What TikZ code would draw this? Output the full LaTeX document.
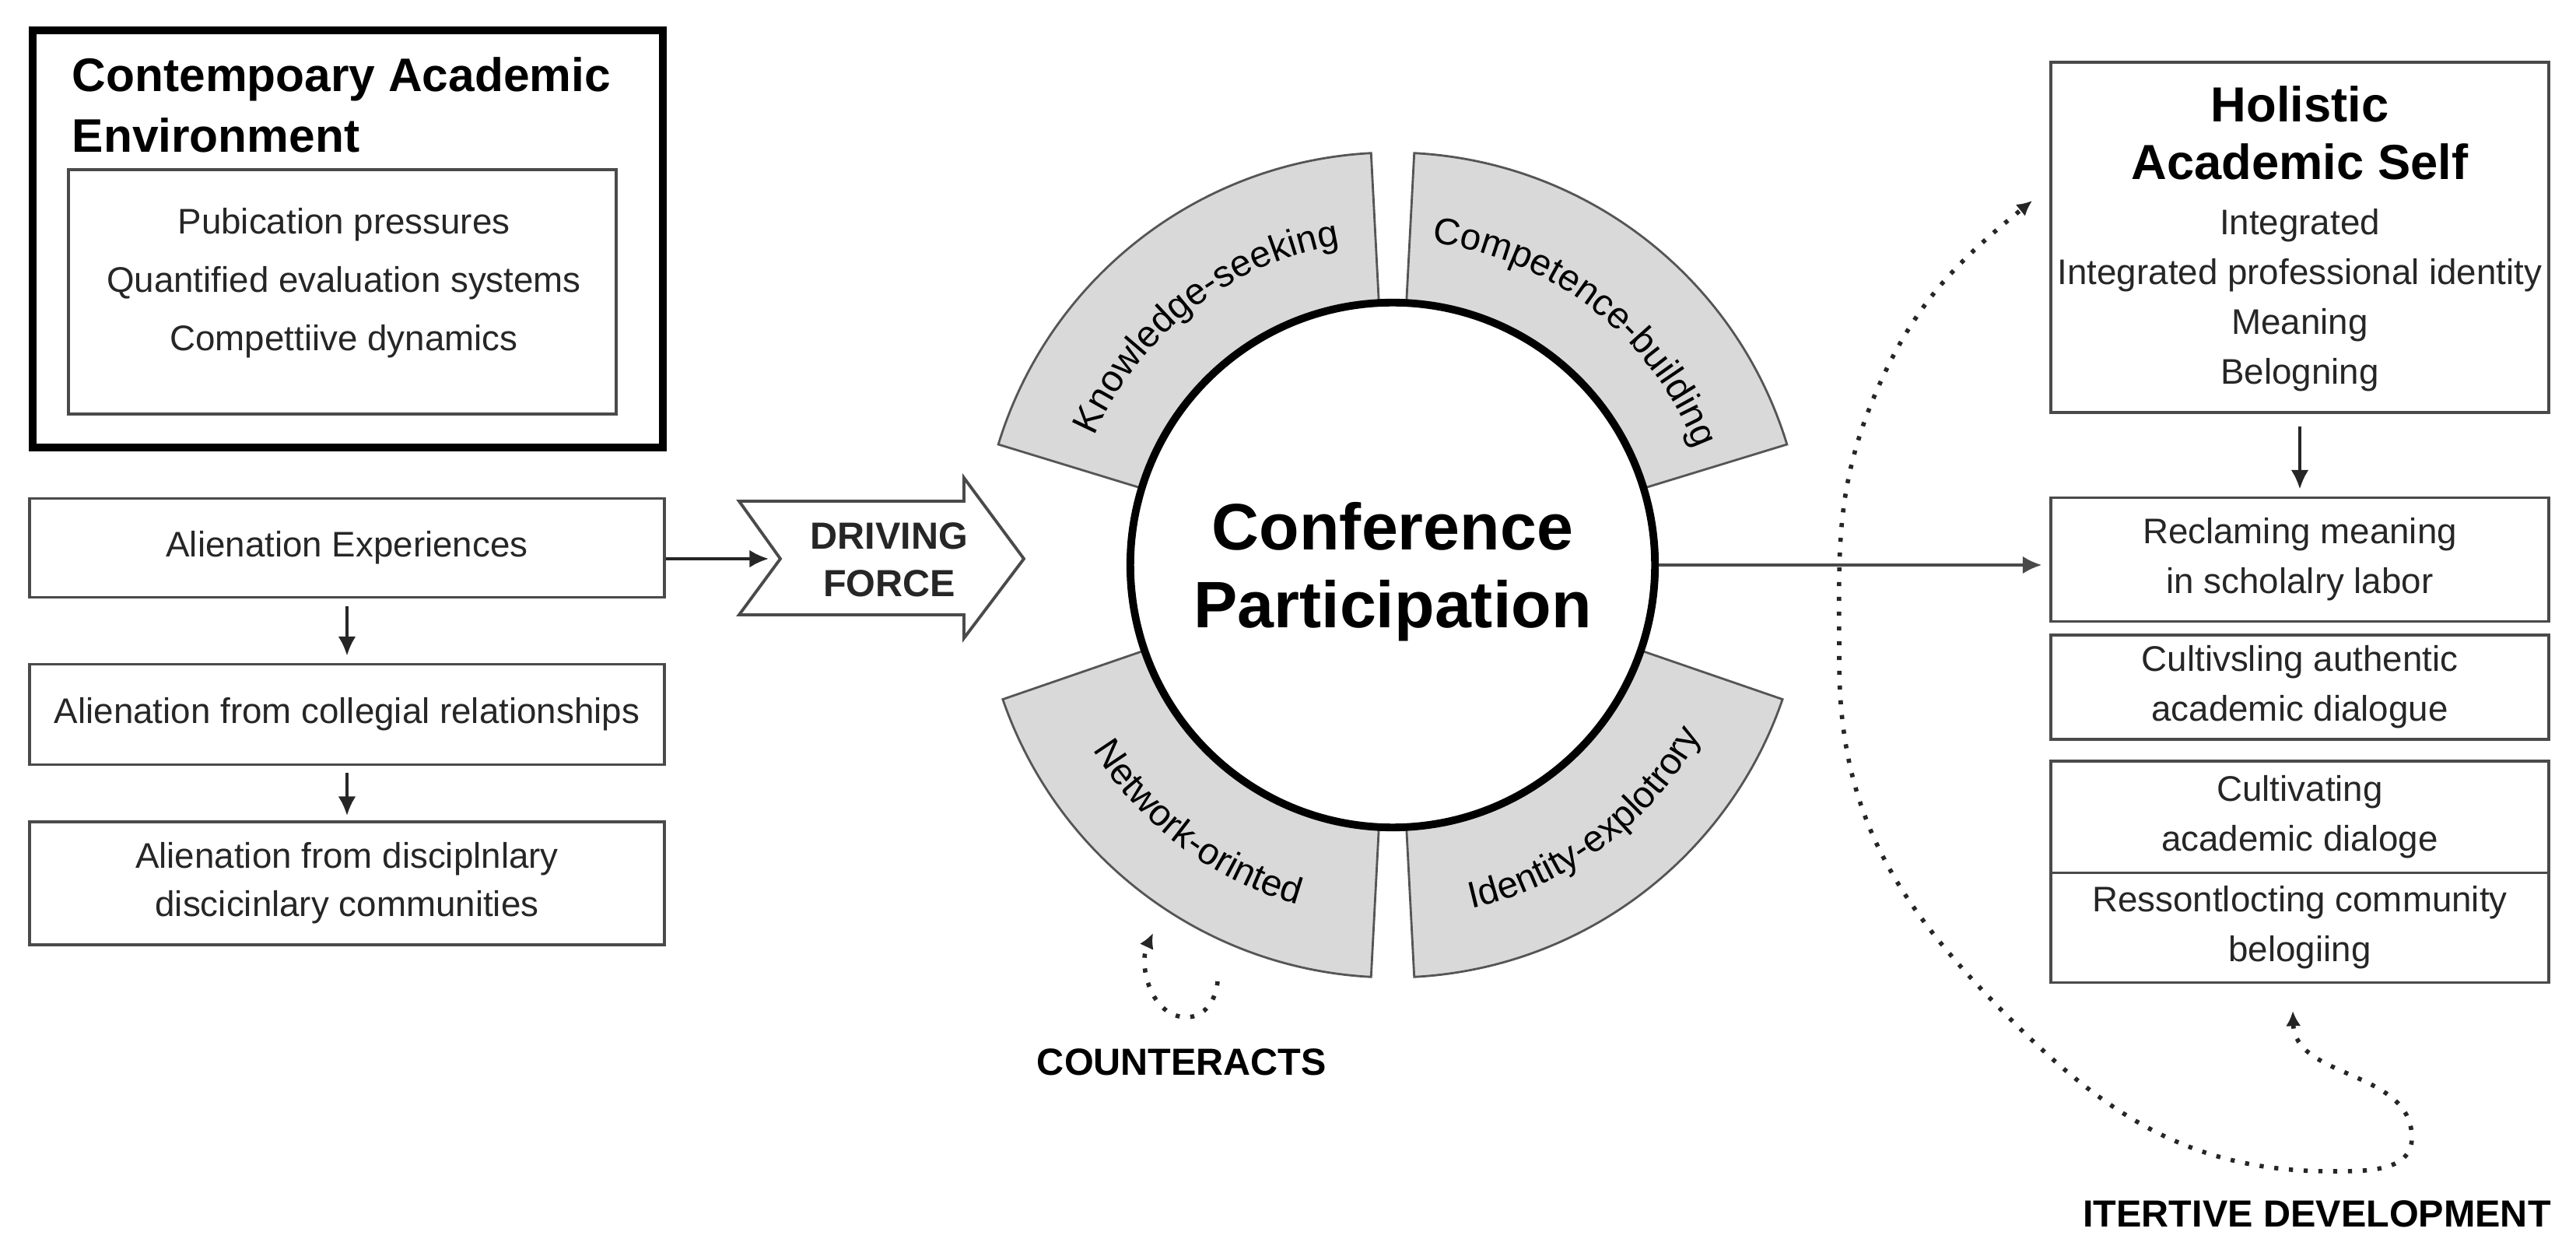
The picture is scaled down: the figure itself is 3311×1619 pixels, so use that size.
\documentclass[tikz,border=0pt]{standalone}
\usepackage{fontspec}
\setmainfont{Liberation Sans}
\usepackage{xcolor}
\usepackage{tikz}
\usetikzlibrary{arrows.meta}
\usetikzlibrary{calc}
\usetikzlibrary{decorations.text}
\definecolor{boxline}{HTML}{4A4A4A}
\definecolor{txtcol}{HTML}{262626}
\definecolor{ringfill}{HTML}{D9D9D9}
\definecolor{ringline}{HTML}{555555}
\newcommand{\bodyfont}{\fontsize{13}{18.2}\selectfont}
\newcommand{\ringfont}{\fontsize{13.6}{15}\selectfont}
\newcommand{\capsfont}{\fontsize{13.8}{17.4}\selectfont\bfseries}

\tikzset{
  box/.style={draw=boxline, line width=1.1pt, fill=white, inner sep=0pt, align=center, font=\bodyfont, text=txtcol},
  lbl/.style={font=\bodyfont, text=txtcol, align=center, inner sep=0pt},
  arr/.style={-{Latex[length=7pt,width=6.5pt]}, line width=1.1pt, draw=txtcol},
  dotline/.style={line width=1.6pt, dash pattern=on 1.5pt off 3.9pt, draw=txtcol},
  dottip/.tip={Latex[length=5.5pt,width=5.5pt]},
  sector/.style={fill=ringfill, draw=ringline, line width=0.8pt},
  ringtext/.style={postaction={decorate, decoration={text along path, text align=center, text color=black, text={|\ringfont|#1}}}}
}

\begin{document}
\begin{tikzpicture}[x=0.01cm,y=0.01cm]
\useasboundingbox (0,0) rectangle (3311,-1619);

% academic environment
\node[draw=black, line width=2.8pt, minimum width=8.1cm, minimum height=5.35cm] (env) at (447,-307) {};
\node[anchor=west, font=\fontsize{17.2}{22}\selectfont\bfseries, align=left, inner sep=0pt] (envtitle) at (92,-135) {Contempoary Academic\\Environment};
\node[box, minimum width=7.03cm, minimum height=3.13cm] (envin) at (440,-375) {};
\node[lbl, font=\fontsize{13}{21.3}\selectfont] (envlist) at (442,-364) {Pubication pressures\\Quantified evaluation systems\\Compettiive dynamics};

% alienation chain
\node[box, minimum width=8.15cm, minimum height=1.27cm] (alien) at (446,-704) {Alienation Experiences};
\node[box, minimum width=8.15cm, minimum height=1.29cm] (colleg) at (446,-918) {Alienation from collegial relationships};
\node[box, minimum width=8.15cm, minimum height=1.58cm, font=\fontsize{13}{17.6}\selectfont] (discip) at (446,-1135) {Alienation from disciplnlary\\discicinlary communities};
\draw[arr, shorten <=0.1cm, shorten >=0.09cm] (alien.south) -- (colleg.north);
\draw[arr, shorten <=0.09cm, shorten >=0.06cm] (colleg.south) -- (discip.north);

% driving force
\coordinate (notch) at (1003,-718);
\draw[line width=1.1pt, draw=boxline, fill=white] (950,-644) -- (1239,-644) -- (1239,-614) -- (1316,-718) -- (1239,-820) -- (1239,-790) -- (950,-790) -- (notch) -- cycle;
\node[font=\capsfont, align=center, text=txtcol] (drive) at (1143,-719) {DRIVING\\FORCE};
\draw[arr, shorten >=0.15cm] (alien.east |- notch) -- (notch);

% ring of motives
\coordinate (c) at (1790,-726);
\begin{scope}[shift={(c)}]
\foreach \a/\b in {93/163, 17/87, 199/267, 273/341}
  \draw[sector] (\a:337) arc[start angle=\a, end angle=\b, radius=337] -- (\b:530) arc[start angle=\b, end angle=\a, radius=530] -- cycle;
\path[ringtext={Knowledge-seeking}] (161:417) arc[start angle=161, end angle=95, radius=417];
\path[ringtext={Competence-building}] (87:417) arc[start angle=87, end angle=17, radius=417];
\path[ringtext={Network-orinted}] (200:453) arc[start angle=200, end angle=266, radius=453];
\path[ringtext={Identity-explotrory}] (274:453) arc[start angle=274, end angle=340, radius=453];
\end{scope}
\node[circle, draw=black, line width=2.8pt, fill=white, minimum size=6.74cm, inner sep=0pt, font=\fontsize{24}{28.2}\selectfont\bfseries, align=center, text depth=0pt] (conf) at (c) {Conference\\Participation};

% holistic self
\node[box, minimum width=6.39cm, minimum height=4.49cm] (holis) at (2956,-305) {};
\node[font=\fontsize{18}{21}\selectfont\bfseries, align=center, inner sep=0pt] (holtitle) at (2956,-171) {Holistic\\Academic Self};
\node[lbl] (hollist) at (2956,-386) {Integrated\\Integrated professional identity\\Meaning\\Belogning};
\node[box, minimum width=6.39cm, minimum height=1.59cm] (recl) at (2956,-719) {Reclaming meaning\\in scholalry labor};
\node[box, minimum width=6.39cm, minimum height=1.34cm] (cultiv) at (2956,-883) {Cultivsling authentic\\academic dialogue};
\node[box, minimum width=6.39cm, minimum height=1.44cm] (dialog) at (2956,-1050) {Cultivating\\academic dialoge};
\node[box, minimum width=6.39cm, minimum height=1.41cm] (belong) at (2956,-1192) {Ressontlocting community\\belogiing};
\draw[arr, shorten <=0.16cm, shorten >=0.09cm] (holis.south) -- (recl.north);
\draw[arr, draw=boxline, shorten >=0.1cm] (conf.east) -- (conf.east -| recl.west);

% feedback loops
\coordinate (itertop) at (2612,-258);
\coordinate (iterbot) at (2947,-1299);
\draw[dotline, dottip-dottip] (iterbot) to[out=-88,in=90] (3100,-1462) to[out=-90,in=0] (2995,-1505) to[out=180,in=-46] (2560,-1285) to[out=134,in=-90] (2364,-850) to[out=90,in=-113] (2410,-507) to[out=67,in=-141] (itertop);
\coordinate (cstart) at (1565,-1261);
\coordinate (ctip) at (1482,-1199);
\draw[dotline, -dottip] (cstart) to[out=-95,in=0] (1525,-1307) to[out=180,in=-115] (ctip);

\node[font=\capsfont] (counter) at (1519,-1365) {COUNTERACTS};
\node[font=\capsfont] (iterdev) at (2978,-1560) {ITERTIVE DEVELOPMENT};
\end{tikzpicture}
\end{document}
